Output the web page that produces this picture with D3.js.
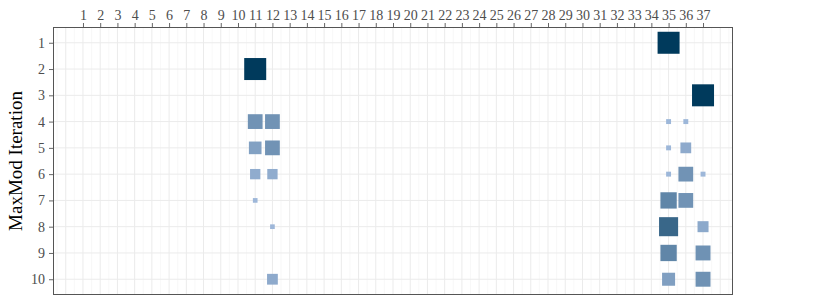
<!DOCTYPE html>
<html>
<head>
<meta charset="utf-8">
<script src="https://cdn.jsdelivr.net/npm/d3@7"></script>
<style>
    body { margin: 0; background: #fff; }
    text { font-family: "Liberation Serif", serif; }
</style>
</head>
<body>
<div id="chart"></div>
<script>
// variable index on x, MaxMod iteration on y
const xTicks = [1, 2, 3, 4, 5, 6, 7, 8, 9, 10, 11, 12, 13, 14, 15, 16, 17, 18, 19,
    20, 21, 22, 23, 24, 25, 26, 27, 28, 29, 30, 31, 32, 33, 34, 35, 36, 37];
const yTicks = [1, 2, 3, 4, 5, 6, 7, 8, 9, 10];

const pointVar  = [35, 11, 37, 11, 12, 35, 36, 11, 12, 35, 36, 11, 12, 35, 36, 37,
    11, 35, 36, 12, 35, 37, 35, 37, 12, 35, 37];
const pointIter = [1, 2, 3, 4, 4, 4, 4, 5, 5, 5, 5, 6, 6, 6, 6, 6,
    7, 7, 7, 8, 8, 8, 9, 9, 10, 10, 10];
const pointValue = [1, 1, 1, 0.45, 0.45, 0.05, 0.05, 0.33, 0.45, 0.05, 0.24, 0.22, 0.22, 0.05, 0.45, 0.05,
    0.045, 0.55, 0.45, 0.045, 0.75, 0.25, 0.55, 0.46, 0.24, 0.35, 0.46];

const points = pointVar.map((v, i) => ({x: v, y: pointIter[i], value: pointValue[i]}));

const width = 830;
const height = 305;
const margin = {top: 27, right: 97, bottom: 10, left: 53};

const svg = d3.select("#chart")
    .append("svg")
    .attr("width", width)
    .attr("height", height);

const x = d3.scaleLinear()
    .domain([-0.74, 38.74])
    .range([margin.left, width - margin.right]);

const y = d3.scaleLinear()
    .domain([0.4, 10.6])
    .range([margin.top, height - margin.bottom]);

const side = d3.scaleSqrt()
    .domain([0, 1])
    .range([0, 22]);

const color = d3.scalePow()
    .exponent(1.55)
    .domain([0, 1])
    .range(["#9fb8da", "#003a5c"])
    .interpolate(d3.interpolateRgb);

// grid
const grid = svg.append("g").attr("class", "grid");
const minorX = d3.range(-0.5, 39, 1);
const majorX = d3.range(0, 39, 1);

grid.selectAll(".minor")
    .data(minorX)
    .join("line")
    .attr("class", "minor")
    .attr("x1", d => x(d)).attr("x2", d => x(d))
    .attr("y1", margin.top).attr("y2", height - margin.bottom)
    .style("stroke", "#f3f3f3")
    .style("stroke-width", 0.6);

grid.selectAll(".majorx")
    .data(majorX)
    .join("line")
    .attr("class", "majorx")
    .attr("x1", d => x(d)).attr("x2", d => x(d))
    .attr("y1", margin.top).attr("y2", height - margin.bottom)
    .style("stroke", "#ebebeb")
    .style("stroke-width", 1);

grid.selectAll(".majory")
    .data(yTicks)
    .join("line")
    .attr("class", "majory")
    .attr("x1", margin.left).attr("x2", width - margin.right)
    .attr("y1", d => y(d)).attr("y2", d => y(d))
    .style("stroke", "#ebebeb")
    .style("stroke-width", 1);

// squares
svg.append("g")
    .attr("class", "points")
    .selectAll("rect")
    .data(points)
    .join("rect")
    .attr("x", d => x(d.x) - side(d.value) / 2)
    .attr("y", d => y(d.y) - side(d.value) / 2)
    .attr("width", d => side(d.value))
    .attr("height", d => side(d.value))
    .style("fill", d => color(d.value));

// panel border
svg.append("rect")
    .attr("x", margin.left + 0.5)
    .attr("y", margin.top + 0.5)
    .attr("width", width - margin.right - margin.left - 1)
    .attr("height", height - margin.bottom - margin.top - 1)
    .style("fill", "none")
    .style("stroke", "#555")
    .style("stroke-width", 1);

// axes
const xAxis = svg.append("g")
    .attr("transform", `translate(0,${margin.top})`)
    .call(d3.axisTop(x).tickValues(xTicks).tickSize(4).tickPadding(3).tickFormat(d3.format("d")));

const yAxis = svg.append("g")
    .attr("transform", `translate(${margin.left},0)`)
    .call(d3.axisLeft(y).tickValues(yTicks).tickSize(4).tickPadding(4).tickFormat(d3.format("d")));

[xAxis, yAxis].forEach(a => {
    a.select(".domain").remove();
    a.selectAll(".tick line").style("stroke", "#666");
    a.selectAll(".tick text")
        .style("fill", "#4d4d4d")
        .style("font-size", "14px")
        .style("font-family", "'Liberation Serif', serif");
});

svg.append("text")
    .attr("transform", `translate(22,${(margin.top + height - margin.bottom) / 2}) rotate(-90)`)
    .attr("text-anchor", "middle")
    .style("font-size", "19px")
    .style("fill", "#000")
    .text("MaxMod Iteration");
</script>
</body>
</html>
